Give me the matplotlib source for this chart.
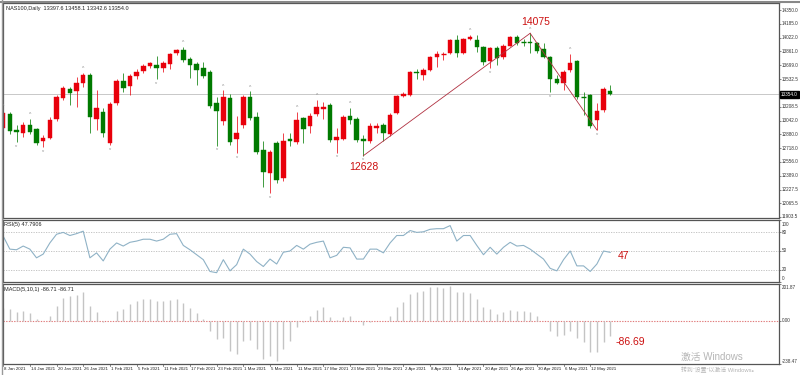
import matplotlib
matplotlib.use("Agg")
import matplotlib.pyplot as plt
import numpy as np

plt.rcParams['font.family'] = ['Liberation Sans', 'Noto Sans CJK SC', 'DejaVu Sans']

# ---------------- data ----------------
dates = ["8 Jan 2021", "14 Jan 2021", "20 Jan 2021", "26 Jan 2021", "1 Feb 2021", "5 Feb 2021",
         "11 Feb 2021", "17 Feb 2021", "23 Feb 2021", "1 Mar 2021", "5 Mar 2021", "11 Mar 2021",
         "17 Mar 2021", "23 Mar 2021", "29 Mar 2021", "2 Apr 2021", "8 Apr 2021", "14 Apr 2021",
         "20 Apr 2021", "26 Apr 2021", "30 Apr 2021", "6 May 2021", "12 May 2021"]
date_idx = [0, 4, 8, 12, 16, 20, 24, 28, 32, 36, 40, 44, 48, 52, 56, 60, 64, 68, 72, 76, 80, 84, 88]

opens = [12960, 13120, 12930, 12896, 12990, 12940, 12800, 12840, 13060, 13310,
         13420, 13390, 13490, 13580, 13060, 13145, 12780, 13250, 13510, 13450,
         13570, 13630, 13690, 13700, 13665, 13710, 13840, 13877, 13770, 13710,
         13665, 13620, 13250, 13040, 13310, 12825, 12990, 13320, 13085, 12695,
         12423, 12780, 12360, 12830, 12790, 13070, 12980, 13120, 13180, 13230,
         12810, 12830, 13100, 13060, 12820, 12800, 12960, 12990, 12880, 13130,
         13330, 13345, 13620, 13580, 13645, 13800, 13830, 13840, 14000, 13840,
         14010, 14000, 13913, 13745, 13900, 13790, 13930, 14030, 13980, 13975,
         13960, 13890, 13795, 13540, 13490, 13640, 13750, 13330, 13340, 13050,
         13165, 13397.6]
highs = [13160, 13140, 12990, 13030, 13060, 12960, 12870, 13080, 13340, 13450,
         13440, 13560, 13610, 13600, 13400, 13190, 13260, 13530, 13600, 13590,
         13655, 13710, 13740, 13810, 13750, 13840, 13890, 13913, 13790, 13735,
         13735, 13640, 13320, 13400, 13360, 13100, 13350, 13390, 13140, 12800,
         12700, 12800, 12900, 12900, 13150, 13090, 13130, 13290, 13260, 13250,
         12960, 13110, 13190, 13090, 12870, 13020, 13020, 13010, 13130, 13345,
         13380, 13625, 13650, 13660, 13810, 13860, 13850, 14010, 14050, 14015,
         14060, 14050, 13930, 13910, 13920, 13950, 14040, 14060, 14010, 14075,
         13975, 13960, 13810, 13580, 13640, 13830, 13760, 13380, 13360, 13250,
         13440, 13458.1]
lows = [12940, 12880, 12790, 12850, 12880, 12750, 12730, 12820, 13040, 13290,
        13230, 13200, 13440, 12900, 12930, 12850, 12750, 13230, 13380, 13340,
        13540, 13610, 13670, 13530, 13620, 13650, 13820, 13740, 13550, 13460,
        13550, 13190, 12745, 12990, 12760, 12660, 12960, 13050, 12650, 12260,
        12187, 12300, 12330, 12740, 12770, 12780, 12900, 13100, 13060, 12790,
        12665, 12810, 13000, 12790, 12628, 12780, 12900, 12800, 12860, 13120,
        13320, 13330, 13530, 13520, 13630, 13680, 13760, 13830, 13800, 13830,
        13990, 13850, 13700, 13660, 13700, 13770, 13920, 13940, 13930, 13840,
        13840, 13780, 13380, 13470, 13400, 13620, 13300, 13110, 12960, 12932,
        13150, 13342.6]
closes = [13130, 12920, 12905, 12990, 12910, 12780, 12840, 13050, 13320, 13430,
          13370, 13490, 13580, 13085, 13190, 12900, 13240, 13510, 13430, 13570,
          13620, 13690, 13720, 13665, 13725, 13830, 13875, 13760, 13700, 13640,
          13570, 13215, 13155, 13320, 12790, 12896, 13320, 13075, 12670, 12435,
          12671, 12340, 12800, 12800, 13050, 12940, 13100, 13200, 13200, 12810,
          12850, 13090, 13050, 12810, 12800, 12980, 12980, 12900, 13110, 13330,
          13355, 13615, 13600, 13640, 13800, 13830, 13840, 14000, 13840, 14005,
          14030, 13913, 13735, 13900, 13780, 13925, 14030, 13960, 13970, 13960,
          13865, 13795, 13535, 13490, 13620, 13720, 13320, 13320, 12980, 13160,
          13415, 13354.0]

rsi = [74, 53, 52, 58, 53, 39, 45, 63, 77, 80, 75, 78, 82, 39, 47, 34, 53, 63, 58, 64,
       66, 69, 69, 66, 69, 77, 78, 59, 52, 44, 36, 17, 15, 36, 18, 28, 53, 45, 33, 25,
       37, 29, 48, 50, 59, 53, 61, 64, 66, 39, 43, 56, 55, 37, 37, 53, 53, 47, 63, 75,
       75, 83, 80, 81, 85, 86, 86, 91, 66, 75, 75, 59, 44, 56, 45, 56, 64, 58, 59, 53,
       45, 37, 22, 18, 36, 50, 26, 26, 17, 29, 50, 47.79]

macd = [70, 64, 48, 51, 42, 9, 0, 27, 83, 125, 134, 143, 158, 83, 48, -7, 0, 55, 66, 92,
        110, 121, 121, 110, 106, 112, 121, 97, 70, 42, 11, -59, -101, -95, -165, -182, -114, -108, -156, -211,
        -193, -220, -154, -110, -37, -9, 24, 57, 75, 20, 6, 18, 24, -4, -22, -9, 0, 0, 24, 75,
        101, 149, 158, 165, 185, 185, 180, 189, 156, 156, 152, 121, 73, 64, 39, 46, 61, 55, 55, 46,
        24, 0, -59, -86, -77, -59, -95, -119, -174, -174, -119, -86.69]

fractal_up = [0, 4, 12, 27, 33, 37, 44, 47, 52, 70, 79, 85]
fractal_dn = [2, 6, 16, 23, 32, 35, 40, 50, 54, 73, 82, 89]

price_labels = [14350.0, 14185.0, 14022.0, 13861.0, 13699.0, 13532.5, 13208.5, 13042.0,
                12880.0, 12718.0, 12556.0, 12389.0, 12227.5, 12065.5, 11903.5]
rsi_labels = [100, 80, 50, 20, 0]
macd_labels = [201.87, 0.0, -238.47]
last_price = 13354.0
peak_idx, peak_val = 79, 14075
trough_idx, trough_val = 54, 12628
end_idx, end_val = 89, 12932
rsi_note, macd_note = "47", "-86.69"

# ---------------- figure ----------------
W, H = 800, 375
fig = plt.figure(figsize=(W / 100, H / 100), dpi=100)
fig.patch.set_facecolor('white')

def px_axes(x0, y0, x1, y1):
    return fig.add_axes([x0 / W, 1 - y1 / H, (x1 - x0) / W, (y1 - y0) / H])

n = len(closes)
xs = np.arange(n)
XL = (-0.1, 116.3)
ax1 = px_axes(2.5, 3, 779, 218)
ax2 = px_axes(2.5, 220, 779, 282)
ax3 = px_axes(2.5, 284, 779, 364)

RED = '#e8000b'
GREEN = '#007a00'
LBL = dict(fontsize=3.3, color='#333333', ha='left', va='center')
for ax in (ax1, ax2, ax3):
    ax.set_xlim(*XL)
    ax.set_xticks([])
    ax.set_facecolor('white')
    for s in ax.spines.values():
        s.set_color('#555555')
        s.set_linewidth(0.9)
    ax.yaxis.tick_right()
    ax.tick_params(axis='y', length=1.5, width=0.5, color='#555555', labelright=False)

# main candles
Y1 = (11891, 14433)
ax1.set_ylim(*Y1)
ax1.axhline(last_price, color='#c8c8c8', lw=0.7, zorder=0)
for i in range(n):
    o, h, l, c = opens[i], highs[i], lows[i], closes[i]
    col = RED if c >= o else GREEN
    ax1.vlines(i, l, h, color=col, lw=0.7, alpha=0.75, zorder=1)
    lo, hi = min(o, c), max(o, c)
    if hi - lo < 12:
        ax1.hlines((o + c) / 2, i - 0.35, i + 0.35, color=col, lw=1.0, zorder=2)
    else:
        ax1.bar(i, hi - lo, bottom=lo, width=0.68, color=col, edgecolor=col, lw=0.3, zorder=2)

for i in fractal_up:
    ax1.text(i, highs[i] + 20, '^', fontsize=3.6, color='#888888', ha='center', va='bottom')
for i in fractal_dn:
    ax1.text(i, lows[i] - 20, 'v', fontsize=3.2, color='#888888', ha='center', va='top')

# trend lines
ax1.plot([trough_idx, peak_idx], [trough_val, peak_val], color='#b03040', lw=0.6, zorder=3)
ax1.plot([peak_idx, end_idx], [peak_val, end_val], color='#b03040', lw=0.6, zorder=3)
ax1.text(peak_idx + 0.8, peak_val + 135, str(peak_val), color='#cc1010', fontsize=7.5,
         ha='center', va='center')
ax1.text(trough_idx + 0.1, trough_val - 135, str(trough_val), color='#cc1010', fontsize=7.5,
         ha='center', va='center')

ax1.set_yticks(price_labels)
for v in price_labels:
    y = (v - Y1[0]) / (Y1[1] - Y1[0])
    ax1.text(1.0035, y, f"{v:.1f}", transform=ax1.transAxes, clip_on=False, **LBL)
yl = (last_price - Y1[0]) / (Y1[1] - Y1[0])
ax1.text(1.0025, yl, f"{last_price:.1f}", transform=ax1.transAxes, fontsize=3.3, color='white',
         ha='left', va='center', bbox=dict(boxstyle='square,pad=0.2', fc='black', ec='black'))
ax1.text(0.004, 0.985, "NAS100,Daily  13397.6 13458.1 13342.6 13354.0", transform=ax1.transAxes,
         fontsize=4, color='#222222', ha='left', va='top')

# RSI
ax2.set_ylim(0, 100)
for lv in (20, 50, 80):
    ax2.axhline(lv, color='#bbbbbb', lw=0.6, ls=(0, (1.5, 1.5)))
ax2.plot(xs, rsi, color='#8fb2c6', lw=0.8)
ax2.set_yticks(rsi_labels)
for v in rsi_labels:
    y = v / 100.0
    y = min(max(y, 0.06), 0.92)
    ax2.text(1.0035, y, str(v), transform=ax2.transAxes, clip_on=False, **LBL)
ax2.text(0.002, 0.97, "RSI(5) 47.7906", transform=ax2.transAxes, fontsize=4,
         color='#222222', ha='left', va='top')
ax2.text(n + 1.0, 42, rsi_note, color='#cc1010', fontsize=7.5, ha='center', va='center')

# MACD
Y3 = (-238.47, 201.87)
ax3.set_ylim(*Y3)
ax3.axhline(0, color='#e07a7a', lw=0.8, ls=(0, (1.2, 1.2)))
ax3.vlines(xs, 0, macd, color='#c4c4c4', lw=1.0)
ax3.set_yticks(macd_labels)
for v in macd_labels:
    y = (v - Y3[0]) / (Y3[1] - Y3[0])
    y = min(max(y, 0.03), 0.96)
    ax3.text(1.0035, y, f"{v:.2f}", transform=ax3.transAxes, clip_on=False, **LBL)
ax3.text(0.002, 0.96, "MACD(5,10,1) -86.71 -86.71", transform=ax3.transAxes, fontsize=4,
         color='#222222', ha='left', va='top')
ax3.text(n + 2.0, -118, macd_note, color='#cc1010', fontsize=7.5, ha='center', va='center')

# date labels
for d, i in zip(dates, date_idx):
    ax3.annotate(d, xy=(i, 0), xycoords=('data', 'axes fraction'), xytext=(0.8, -2.5),
                 textcoords='offset points', fontsize=3.2, color='#222222', ha='left', va='top',
                 annotation_clip=False)
    ax3.plot([i, i], [0, -0.03], transform=ax3.get_xaxis_transform(), color='#555555',
             lw=0.5, clip_on=False)

# watermark
fig.text(681 / W, 1 - 357 / H, "激活 Windows", fontsize=7, color='#b5b5b5', ha='left', va='center')
fig.text(681 / W, 1 - 370 / H, "转到“设置”以激活 Windows。", fontsize=4.2, color='#b5b5b5',
         ha='left', va='center')

# outer frame
fig.add_artist(plt.Line2D([0, 1], [1 - 1.5 / H, 1 - 1.5 / H], transform=fig.transFigure,
                          color='#888888', lw=1.5))
fig.add_artist(plt.Line2D([1.5 / W, 1.5 / W], [0, 1], transform=fig.transFigure,
                          color='#999999', lw=1))

fig.savefig("out.png", dpi=100, facecolor='white')
